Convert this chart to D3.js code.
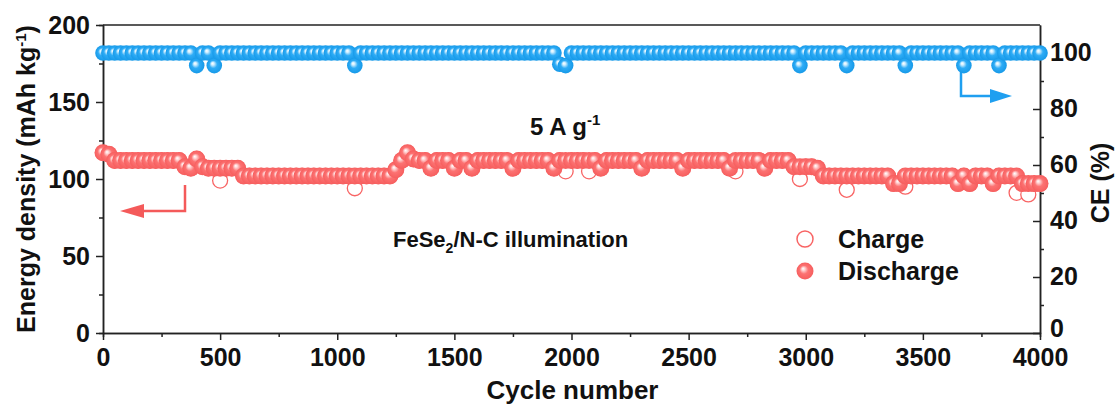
<!DOCTYPE html>
<html>
<head>
<meta charset="utf-8">
<script src="https://cdn.jsdelivr.net/npm/d3@7"></script>
<style>
  body { margin: 0; background: #fff; }
  svg text { font-family: 'Liberation Sans', Arial, sans-serif; font-weight: bold; fill: #111; }
  .axis path, .axis line { stroke: #222; stroke-width: 1.5; }
  .axis text { font-size: 25px; }
</style>
</head>
<body>
<div id="chart"></div>
<script>
'use strict';

// cycle number of every sampled point
const cycles = [
  0, 25, 50, 75, 100, 125, 150, 175, 200, 225, 250, 275, 300, 325, 350, 375,
  400, 425, 450, 475, 500, 525, 550, 575, 600, 625, 650, 675, 700, 725, 750, 775,
  800, 825, 850, 875, 900, 925, 950, 975, 1000, 1025, 1050, 1075, 1100, 1125, 1150, 1175,
  1200, 1225, 1250, 1275, 1300, 1325, 1350, 1375, 1400, 1425, 1450, 1475, 1500, 1525, 1550, 1575,
  1600, 1625, 1650, 1675, 1700, 1725, 1750, 1775, 1800, 1825, 1850, 1875, 1900, 1925, 1950, 1975,
  2000, 2025, 2050, 2075, 2100, 2125, 2150, 2175, 2200, 2225, 2250, 2275, 2300, 2325, 2350, 2375,
  2400, 2425, 2450, 2475, 2500, 2525, 2550, 2575, 2600, 2625, 2650, 2675, 2700, 2725, 2750, 2775,
  2800, 2825, 2850, 2875, 2900, 2925, 2950, 2975, 3000, 3025, 3050, 3075, 3100, 3125, 3150, 3175,
  3200, 3225, 3250, 3275, 3300, 3325, 3350, 3375, 3400, 3425, 3450, 3475, 3500, 3525, 3550, 3575,
  3600, 3625, 3650, 3675, 3700, 3725, 3750, 3775, 3800, 3825, 3850, 3875, 3900, 3925, 3950, 3975,
  4000
];

// discharge energy density (mAh kg-1)
const discharge = [
  117, 116, 112, 112, 112, 112, 112, 112, 112, 112, 112, 112, 112, 112, 108, 107,
  113, 108, 107, 107, 107, 107, 107, 107, 102, 102, 102, 102, 102, 102, 102, 102,
  102, 102, 102, 102, 102, 102, 102, 102, 102, 102, 102, 102, 102, 102, 102, 102,
  102, 102, 106, 112, 117, 113, 112, 112, 107, 112, 112, 112, 107, 112, 112, 107,
  112, 112, 112, 112, 112, 112, 107, 112, 112, 112, 112, 112, 112, 107, 112, 112,
  112, 112, 112, 112, 112, 107, 112, 112, 112, 112, 112, 112, 107, 112, 112, 112,
  112, 112, 112, 107, 112, 112, 112, 112, 112, 112, 112, 107, 112, 112, 112, 112,
  112, 107, 112, 112, 112, 112, 108, 108, 108, 108, 107, 102, 102, 102, 102, 102,
  102, 102, 102, 102, 102, 102, 102, 97, 97, 102, 102, 102, 102, 102, 102, 102,
  102, 102, 97, 102, 97, 102, 102, 102, 97, 102, 102, 102, 102, 97, 97, 97,
  97
];

// charge energy density (mAh kg-1)
const charge = [
  117, 116, 112, 112, 112, 112, 112, 112, 112, 112, 112, 112, 112, 112, 108, 107,
  113, 108, 107, 107, 99, 107, 107, 107, 102, 102, 102, 102, 102, 102, 102, 102,
  102, 102, 102, 102, 102, 102, 102, 102, 102, 102, 102, 94, 102, 102, 102, 102,
  102, 102, 106, 112, 117, 113, 112, 112, 107, 112, 112, 112, 107, 112, 112, 107,
  112, 112, 112, 112, 112, 112, 107, 112, 112, 112, 112, 112, 112, 107, 112, 105,
  112, 112, 112, 105, 112, 107, 112, 112, 112, 112, 112, 112, 107, 112, 112, 112,
  112, 112, 112, 107, 112, 112, 112, 112, 112, 112, 112, 107, 105, 112, 112, 112,
  112, 107, 112, 112, 112, 112, 108, 100, 108, 108, 107, 102, 102, 102, 102, 93,
  102, 102, 102, 102, 102, 102, 102, 97, 97, 95, 102, 102, 102, 102, 102, 102,
  102, 102, 97, 102, 97, 102, 102, 102, 97, 102, 102, 102, 91, 97, 90, 97,
  97
];

// coulombic efficiency (%)
const ce = [
  100, 100, 100, 100, 100, 100, 100, 100, 100, 100, 100, 100, 100, 100, 100, 100,
  95.5, 100, 100, 95.5, 100, 100, 100, 100, 100, 100, 100, 100, 100, 100, 100, 100,
  100, 100, 100, 100, 100, 100, 100, 100, 100, 100, 100, 95.5, 100, 100, 100, 100,
  100, 100, 100, 100, 100, 100, 100, 100, 100, 100, 100, 100, 100, 100, 100, 100,
  100, 100, 100, 100, 100, 100, 100, 100, 100, 100, 100, 100, 100, 100, 96, 95.5,
  100, 100, 100, 100, 100, 100, 100, 100, 100, 100, 100, 100, 100, 100, 100, 100,
  100, 100, 100, 100, 100, 100, 100, 100, 100, 100, 100, 100, 100, 100, 100, 100,
  100, 100, 100, 100, 100, 100, 100, 95.5, 100, 100, 100, 100, 100, 100, 100, 95.5,
  100, 100, 100, 100, 100, 100, 100, 100, 100, 95.5, 100, 100, 100, 100, 100, 100,
  100, 100, 100, 95.5, 100, 100, 100, 100, 100, 95.5, 100, 100, 100, 100, 100, 100,
  100
];

const xTicks = [0, 500, 1000, 1500, 2000, 2500, 3000, 3500, 4000];
const yTicks = [0, 50, 100, 150, 200];
const ceTicks = [0, 20, 40, 60, 80, 100];

const W = 1116, H = 405;
const margin = {left: 103, right: 76, top: 25, bottom: 72};
const RED = '#f86464';

window.onload = function () {
  const svg = d3.select('#chart').append('svg')
    .attr('width', W)
    .attr('height', H);

  makeGradients(svg);

  const x = d3.scaleLinear().domain([0, 4000]).range([margin.left, W - margin.right]);
  const y = d3.scaleLinear().domain([0, 200]).range([H - margin.bottom, margin.top]);
  const yCE = d3.scaleLinear().domain([0, 110]).range([H - margin.bottom, margin.top]);

  drawAxes(svg, x, y, yCE);
  drawAnnotations(svg);

  const pts = cycles.map(function (c, i) {
    return {cycle: c, charge: charge[i], discharge: discharge[i], ce: ce[i]};
  });

  // charge first (open), discharge drawn over it
  svg.append('g').selectAll('circle')
      .data(pts)
    .enter().append('circle')
      .attr('cx', function (d) { return x(d.cycle); })
      .attr('cy', function (d) { return y(d.charge); })
      .attr('r', 7.5)
      .attr('fill', '#fff')
      .attr('stroke', RED)
      .attr('stroke-width', 1.3);

  svg.append('g').selectAll('circle')
      .data(pts)
    .enter().append('circle')
      .attr('cx', function (d) { return x(d.cycle); })
      .attr('cy', function (d) { return y(d.discharge); })
      .attr('r', 8.5)
      .attr('fill', 'url(#ballRed)');

  svg.append('g').selectAll('circle')
      .data(pts)
    .enter().append('circle')
      .attr('cx', function (d) { return x(d.cycle); })
      .attr('cy', function (d) { return yCE(d.ce); })
      .attr('r', 7.8)
      .attr('fill', 'url(#ballBlue)');

  drawLegend(svg);
};

function makeGradients(svg) {
  const defs = svg.append('defs');
  const specs = [
    {id: 'ballRed', stops: ['#ffffff', '#ffd6d6', '#fc7272', '#f65e5e']},
    {id: 'ballBlue', stops: ['#ffffff', '#d2efff', '#2eacf6', '#1699e8']}
  ];
  specs.forEach(function (s) {
    const g = defs.append('radialGradient')
      .attr('id', s.id)
      .attr('cx', '50%').attr('cy', '50%').attr('r', '50%')
      .attr('fx', '38%').attr('fy', '35%');
    [0, 0.18, 0.5, 1].forEach(function (o, i) {
      g.append('stop').attr('offset', o).attr('stop-color', s.stops[i]);
    });
  });
}

function drawAxes(svg, x, y, yCE) {
  const bottom = H - margin.bottom;
  const right = W - margin.right;

  // minor ticks
  svg.append('g').attr('class', 'axis')
    .attr('transform', 'translate(0,' + bottom + ')')
    .call(d3.axisBottom(x).tickValues(d3.range(250, 4000, 500)).tickSize(4).tickFormat(''));
  svg.append('g').attr('class', 'axis')
    .attr('transform', 'translate(' + margin.left + ',0)')
    .call(d3.axisLeft(y).tickValues([25, 75, 125, 175]).tickSize(4).tickFormat(''));
  svg.append('g').attr('class', 'axis')
    .attr('transform', 'translate(' + right + ',0)')
    .call(d3.axisLeft(yCE).tickValues([10, 30, 50, 70, 90]).tickSize(-4).tickFormat('').tickSizeOuter(0));

  // major ticks
  svg.append('g').attr('class', 'axis')
    .attr('transform', 'translate(0,' + bottom + ')')
    .call(d3.axisBottom(x).tickValues(xTicks).tickFormat(d3.format('d'))
      .tickSize(7).tickSizeOuter(0).tickPadding(8));

  svg.append('g').attr('class', 'axis')
    .attr('transform', 'translate(' + margin.left + ',0)')
    .call(d3.axisLeft(y).tickValues(yTicks).tickSize(7).tickSizeOuter(0).tickPadding(6));

  const ra = svg.append('g').attr('class', 'axis')
    .attr('transform', 'translate(' + right + ',0)')
    .call(d3.axisRight(yCE).tickValues(ceTicks).tickSizeInner(-7).tickSizeOuter(0).tickPadding(10));
  ra.selectAll('text')
    .attr('x', 10)
    .attr('dy', function (d) { return d === 0 ? '0.12em' : '0.3em'; });

  // top frame line
  svg.append('line')
    .attr('x1', margin.left).attr('x2', right)
    .attr('y1', margin.top).attr('y2', margin.top)
    .attr('stroke', '#222').attr('stroke-width', 1.5);

  svg.append('text')
    .attr('x', (margin.left + right) / 2 + 1)
    .attr('y', 399)
    .attr('text-anchor', 'middle')
    .style('font-size', '26px')
    .text('Cycle number');

  const yl = svg.append('text')
    .attr('transform', 'translate(35,' + ((margin.top + bottom) / 2) + ') rotate(-90)')
    .attr('text-anchor', 'middle')
    .style('font-size', '25px');
  yl.append('tspan').text('Energy density (mAh kg');
  yl.append('tspan').attr('dy', -9).style('font-size', '15px').text('-1');
  yl.append('tspan').attr('dy', 9).text(')');

  svg.append('text')
    .attr('transform', 'translate(1109,' + 183 + ') rotate(-90)')
    .attr('text-anchor', 'middle')
    .style('font-size', '25px')
    .text('CE (%)');
}

function drawAnnotations(svg) {
  const t = svg.append('text')
    .attr('x', 530).attr('y', 135)
    .style('font-size', '24px');
  t.append('tspan').text('5 A g');
  t.append('tspan').attr('dy', -10).style('font-size', '15px').text('-1');

  const f = svg.append('text')
    .attr('x', 393).attr('y', 247)
    .style('font-size', '22px');
  f.append('tspan').text('FeSe');
  f.append('tspan').attr('dy', 6).style('font-size', '14px').text('2');
  f.append('tspan').attr('dy', -6).text('/N-C illumination');

  // red arrow -> left axis
  svg.append('path')
    .attr('d', 'M185,185 V211 H140')
    .attr('fill', 'none').attr('stroke', '#f45a5a').attr('stroke-width', 2.5);
  svg.append('path')
    .attr('d', 'M120,211 L144,204 L144,218 Z')
    .attr('fill', '#f45a5a');

  // blue arrow -> right axis
  svg.append('path')
    .attr('d', 'M961,70 V96 H992')
    .attr('fill', 'none').attr('stroke', '#1f9ff0').attr('stroke-width', 2.5);
  svg.append('path')
    .attr('d', 'M1012,96 L990,89 L990,103 Z')
    .attr('fill', '#1f9ff0');
}

function drawLegend(svg) {
  const lg = svg.append('g').attr('transform', 'translate(805,0)');
  lg.append('circle')
    .attr('cx', 0).attr('cy', 239).attr('r', 8)
    .attr('fill', '#fff').attr('stroke', RED).attr('stroke-width', 1.5);
  lg.append('circle')
    .attr('cx', 0).attr('cy', 271).attr('r', 8.5)
    .attr('fill', 'url(#ballRed)');
  lg.append('text').attr('x', 33).attr('y', 248).style('font-size', '25px').text('Charge');
  lg.append('text').attr('x', 33).attr('y', 280).style('font-size', '25px').text('Discharge');
}
</script>
</body>
</html>
